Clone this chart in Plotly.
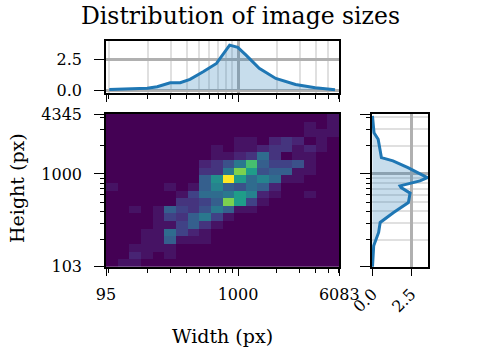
import numpy as np
import plotly.graph_objects as go

# axis limits and tick labels (pixels)
x_lim = [95, 6083]
y_lim = [103, 4345]
x_major = [95, 1000, 6083]
y_major = [103, 1000, 4345]
x_minor = [100, 200, 300, 400, 500, 600, 700, 800, 900, 2000, 3000, 4000, 5000, 6000]
y_minor = [200, 300, 400, 500, 600, 700, 800, 900, 2000, 3000, 4000]

# 2d histogram counts, rows from top (tall) to bottom (short), 20 log bins per axis
counts = [
    [0, 0, 0, 0, 0, 0, 0, 0, 0, 0, 0, 0, 0, 0, 0, 0, 0, 0, 0, 1],
    [0, 0, 0, 0, 0, 0, 0, 0, 0, 0, 0, 0, 0, 0, 0, 0, 0, 1, 0, 1],
    [0, 0, 0, 0, 0, 0, 0, 0, 0, 0, 0, 0, 0, 0, 0, 0, 0, 1, 1, 1],
    [0, 0, 0, 0, 0, 0, 0, 0, 0, 0, 0, 1, 1, 0, 2, 3, 2, 0, 1, 0],
    [0, 0, 0, 0, 0, 0, 0, 0, 0, 1, 0, 1, 1, 2, 3, 3, 1, 2, 1, 0],
    [0, 0, 0, 0, 0, 0, 0, 0, 0, 1, 1, 2, 3, 7, 3, 0, 1, 1, 0, 0],
    [0, 0, 0, 0, 0, 0, 0, 0, 2, 3, 5, 8, 14, 6, 4, 4, 5, 1, 0, 0],
    [0, 0, 0, 0, 0, 0, 0, 0, 3, 3, 8, 16, 11, 5, 6, 6, 1, 1, 0, 0],
    [0, 0, 0, 0, 0, 0, 0, 0, 6, 10, 20, 11, 7, 9, 7, 1, 1, 0, 0, 0],
    [1, 0, 0, 0, 0, 1, 0, 1, 6, 9, 6, 5, 7, 6, 2, 0, 0, 0, 0, 0],
    [0, 0, 0, 0, 0, 0, 1, 4, 7, 7, 8, 11, 9, 2, 1, 0, 0, 1, 0, 0],
    [0, 0, 0, 0, 0, 0, 3, 3, 4, 6, 16, 11, 4, 1, 0, 0, 0, 0, 0, 0],
    [0, 0, 1, 0, 1, 6, 4, 3, 5, 8, 6, 1, 1, 0, 0, 0, 0, 0, 0, 0],
    [0, 0, 0, 0, 1, 4, 3, 6, 8, 4, 1, 0, 0, 0, 0, 0, 0, 0, 0, 0],
    [0, 0, 0, 0, 1, 1, 4, 6, 3, 1, 0, 0, 0, 0, 0, 0, 0, 0, 0, 0],
    [0, 0, 0, 1, 1, 7, 4, 2, 1, 0, 0, 0, 0, 0, 0, 0, 0, 0, 0, 0],
    [0, 0, 0, 1, 1, 6, 1, 1, 1, 0, 0, 0, 0, 0, 0, 0, 0, 0, 0, 0],
    [0, 0, 1, 1, 1, 1, 0, 0, 0, 0, 0, 0, 0, 0, 0, 0, 0, 0, 0, 0],
    [0, 0, 2, 1, 0, 1, 0, 0, 0, 0, 0, 0, 0, 0, 0, 0, 0, 0, 0, 0],
    [0, 1, 1, 0, 0, 0, 0, 0, 0, 0, 0, 0, 0, 0, 0, 0, 0, 0, 0, 0],
]

# width kde (log10 width vs density)
w_log = [2.003, 2.297, 2.374, 2.475, 2.552, 2.628, 2.730, 2.833, 2.935, 2.998, 3.062, 3.164, 3.292, 3.445, 3.598, 3.751]
w_dens = [0.05, 0.14, 0.27, 0.60, 0.60, 0.87, 1.49, 2.17, 3.66, 3.48, 2.85, 1.77, 0.95, 0.46, 0.19, 0.02]

# height kde (log10 height vs density)
h_log = [2.006, 2.236, 2.377, 2.484, 2.590, 2.696, 2.796, 2.855, 2.873, 2.926, 2.961, 3.068, 3.139, 3.174, 3.369, 3.439, 3.617]
h_dens = [0.0, 0.08, 0.40, 0.50, 1.37, 2.33, 2.44, 1.86, 1.79, 3.08, 3.56, 2.30, 1.33, 0.58, 0.37, 0.10, 0.0]

lx = np.log10(x_lim)
ly = np.log10(y_lim)
dx = (lx[1] - lx[0]) / 20
dy = (ly[1] - ly[0]) / 20

font = 'DejaVu Serif'
blue = '#1f77b4'
fill = 'rgba(31,119,180,0.25)'

fig = go.Figure()

# main 2d histogram
fig.add_trace(go.Heatmap(z=counts[::-1], x0=lx[0] + dx / 2, dx=dx, y0=ly[0] + dy / 2, dy=dy,
                         colorscale='Viridis', zmin=0, showscale=False,
                         xaxis='x', yaxis='y'))

# top marginal
fig.add_trace(go.Scatter(x=w_log, y=w_dens, mode='lines', line=dict(color=blue, width=3),
                         fill='tozeroy', fillcolor=fill, xaxis='x2', yaxis='y2', showlegend=False))

# right marginal
fig.add_trace(go.Scatter(x=h_dens, y=h_log, mode='lines', line=dict(color=blue, width=3),
                         fill='tozerox', fillcolor=fill, xaxis='x3', yaxis='y3', showlegend=False))

W, H = 477, 355
main_x = [106 / W, 339.3 / W]
main_y = [1 - 266.7 / H, 1 - 114 / H]
top_y = [1 - 93 / H, 1 - 41 / H]
right_x = [372 / W, 428.3 / W]

tick_font = dict(family=font, size=16, color='black')
axis_common = dict(showline=True, linecolor='black', linewidth=1.6, mirror=True, automargin=False,
                   ticks='outside', tickcolor='black', tickwidth=1.3, zeroline=False,
                   tickfont=tick_font)


def log_x(domain, labels, anchor):
    return dict(axis_common, domain=domain, anchor=anchor, range=list(lx),
                tickvals=np.log10(x_major), ticktext=[str(v) for v in x_major] if labels else ['', '', ''],
                ticklen=7, ticklabelstandoff=5, showgrid=not labels, gridcolor='#b0b0b0', gridwidth=2.5,
                minor=dict(tickvals=np.log10(x_minor), ticks='outside', ticklen=4, tickcolor='black',
                           showgrid=not labels, gridcolor='#e0e0e0', gridwidth=2))


def log_y(domain, labels, anchor):
    return dict(axis_common, domain=domain, anchor=anchor, range=list(ly),
                tickvals=np.log10(y_major), ticktext=[str(v) for v in y_major] if labels else ['', '', ''],
                ticklen=10, ticklabelstandoff=9, showgrid=not labels, gridcolor='#b0b0b0', gridwidth=2.5,
                minor=dict(tickvals=np.log10(y_minor), ticks='outside', ticklen=4, tickcolor='black',
                           showgrid=not labels, gridcolor='#e0e0e0', gridwidth=2))


fig.update_layout(
    width=W, height=H,
    margin=dict(l=0, r=0, t=0, b=0),
    paper_bgcolor='white', plot_bgcolor='white',
    font=dict(family=font, color='black'),
    showlegend=False,
    xaxis=log_x(main_x, True, 'y'),
    yaxis=log_y(main_y, True, 'x'),
    xaxis2=log_x(main_x, False, 'y2'),
    yaxis2=dict(axis_common, domain=top_y, anchor='x2', range=[-0.24, 4.0],
                tickvals=[0, 2.5], ticktext=['0.0', '2.5'], ticklen=10, ticklabelstandoff=9,
                showgrid=True, gridcolor='#b0b0b0', gridwidth=2.5),
    xaxis3=dict(axis_common, domain=right_x, anchor='y3', range=[-0.03, 3.62],
                tickvals=[0, 2.5], ticktext=['0.0', '2.5'], ticklen=7, tickangle=-45,
                ticklabelstandoff=3, showgrid=True, gridcolor='#b0b0b0', gridwidth=2.5),
    yaxis3=log_y(main_y, False, 'x3'),
    annotations=[
        dict(text='Distribution of image sizes', x=240 / W, y=1 - 16 / H, xref='paper', yref='paper',
             xanchor='center', yanchor='middle', showarrow=False, font=dict(family=font, size=23.5)),
        dict(text='Width (px)', x=222.5 / W, y=1 - 336 / H, xref='paper', yref='paper',
             xanchor='center', yanchor='middle', showarrow=False, font=dict(family=font, size=19)),
        dict(text='Height (px)', x=17 / W, y=1 - 188 / H, xref='paper', yref='paper',
             xanchor='center', yanchor='middle', showarrow=False, textangle=-90,
             font=dict(family=font, size=19)),
    ],
)

# drop the default page margin so the figure sits at the window origin
fig.write_html('out.html', config={'displayModeBar': False},
               post_script="document.body.style.margin='0px';")
